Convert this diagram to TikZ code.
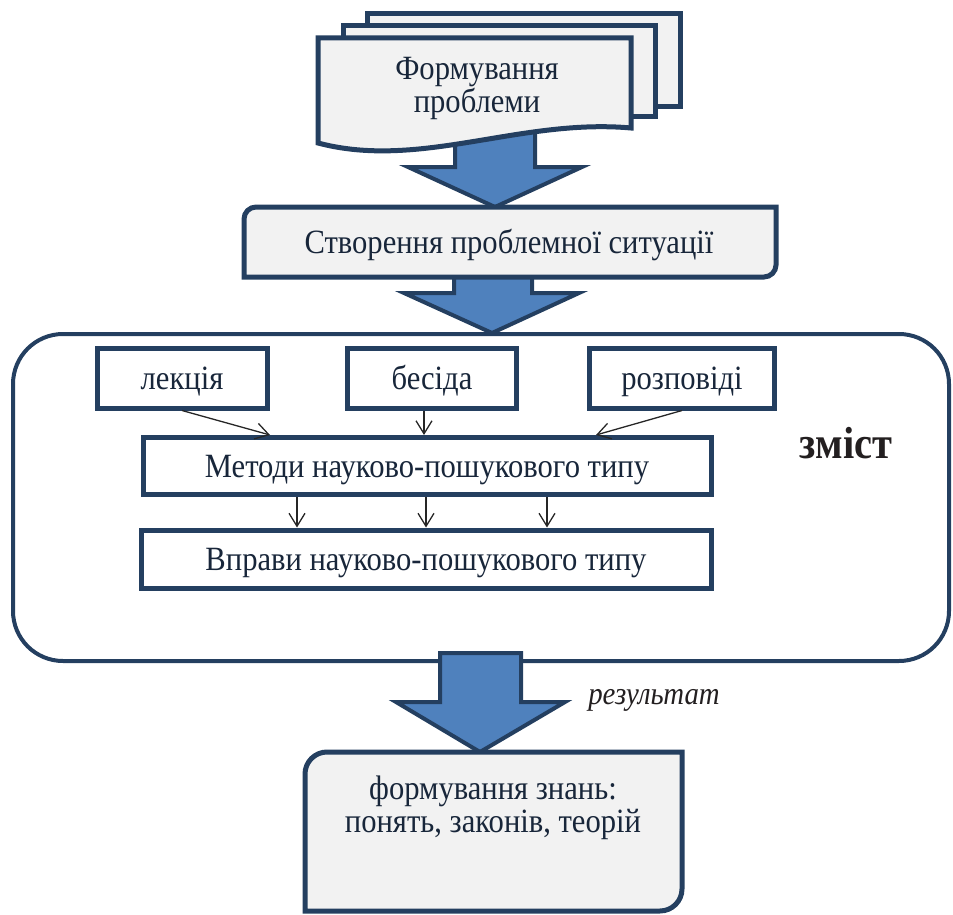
\documentclass[tikz,border=0pt]{standalone}
\usepackage{fontspec}
\setmainfont[FakeStretch=0.9]{Liberation Serif}
\usetikzlibrary{arrows.meta,calc}
\definecolor{edge}{HTML}{243F60}
\definecolor{paper}{HTML}{F2F2F2}
\definecolor{blk}{HTML}{4F81BD}
\definecolor{ink}{HTML}{18263A}
\definecolor{dark}{HTML}{231F20}
\begin{document}
\begin{tikzpicture}[x=1pt,y=-1pt,
  bigarrow/.style={draw=edge,fill=blk,line width=4pt,line join=miter},
  sheet/.style={draw=edge,fill=paper,line width=5pt,line join=miter},
  txt/.style={text=ink,font=\fontsize{34}{33}\selectfont,align=center,inner sep=0pt},
  framebox/.style={draw=edge,line width=5pt,fill=white,inner sep=0pt,text=ink,font=\fontsize{34}{33}\selectfont,text height=23pt,text depth=0pt},
  thinarrow/.style={draw=black!85,line width=1.3pt,-{Straight Barb[length=13pt,width=16pt]}}]
\useasboundingbox (0,0) rectangle (953,915);

% block arrow 1 (behind document)
\draw[bigarrow] (455,120) -- (455,167) -- (408,167) -- (495,207) -- (582,167) -- (535,167) -- (535,120) -- cycle;
% block arrow 2 (behind box)
\draw[bigarrow] (454,265) -- (454,293) -- (404,293) -- (492,333) -- (579,293) -- (532,293) -- (532,265) -- cycle;

% multi-document
\draw[sheet] (367,14) rectangle (680,107);
\draw[sheet] (343,26) rectangle (655,117);
\draw[sheet] (318,38) -- (631,38) -- (631,128) .. controls (520,118) and (420,170) .. (318,143) -- cycle;
\node[txt] (doc) at (477,88) {Формування\\проблеми};

% situation box
\draw[sheet] (244,277) -- (244,219) .. controls (244,212.4) and (249.4,207) .. (256,207) -- (776,207) -- (776,265) .. controls (776,271.6) and (770.6,277) .. (764,277) -- cycle;
\node[txt] (sit) at (509,245) {Створення проблемної ситуації};

% container
\draw[draw=edge,line width=4pt,rounded corners=50pt] (13,334) rectangle (949,661);
\node[font=\fontsize{45}{48}\selectfont\bfseries,text=dark,inner sep=0pt] (zm) at (846,443) {зміст};

% small boxes
\node[framebox,minimum width=170pt,minimum height=60pt] (lek) at (182,378) {лекція};
\node[framebox,minimum width=169pt,minimum height=60pt] (bes) at (432,378) {бесіда};
\node[framebox,minimum width=185pt,minimum height=60pt] (roz) at (682,378) {розповіді};

\node[framebox,minimum width=568pt,minimum height=57pt] (met) at (427,466) {Методи науково-пошукового типу};
\node[framebox,minimum width=570pt,minimum height=58pt] (vpr) at (426,559) {Вправи науково-пошукового типу};

\draw[thinarrow] (lek.south) -- ([xshift=-157pt]met.north);
\draw[thinarrow] ([xshift=-8pt]bes.south) -- ([xshift=-3pt]met.north);
\draw[thinarrow] (roz.south) -- ([xshift=169pt]met.north);

\draw[thinarrow] ([xshift=-130pt]met.south) -- ([xshift=-129pt]vpr.north);
\draw[thinarrow] ([xshift=-1pt]met.south) -- (vpr.north);
\draw[thinarrow] ([xshift=120pt]met.south) -- ([xshift=121pt]vpr.north);

% block arrow 3
\draw[bigarrow] (440,653) -- (440,702) -- (396,702) -- (480,752) -- (565,702) -- (521,702) -- (521,653) -- cycle;
\node[font=\fontsize{32}{34}\selectfont\itshape,text=dark,inner sep=0pt] (rez) at (654,700) {результат};

% result box
\draw[sheet] (305,911) -- (305,774) .. controls (305,761.9) and (314.9,752) .. (327,752) -- (682,752) -- (682,889) .. controls (682,901.1) and (672.1,911) .. (660,911) -- cycle;
\node[txt] (res) at (493,808) {формування знань:\\понять, законів, теорій};
\end{tikzpicture}
\end{document}
